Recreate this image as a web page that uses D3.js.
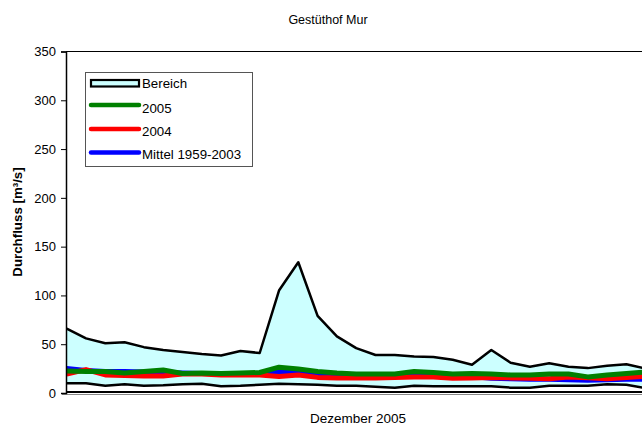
<!DOCTYPE html>
<html>
<head>
<meta charset="utf-8">
<script src="https://cdn.jsdelivr.net/npm/d3@7"></script>
<style>
  body { margin: 0; background: #fff; }
  svg { font-family: "Liberation Sans", Arial, sans-serif; }
</style>
</head>
<body>
<div id="chart"></div>
<script>
// Daily values, Dezember 2005 (day 1..31)
const days = d3.range(1, 32);
const bereichMax = [66, 56, 51, 52, 47, 44, 42, 40, 38.5, 43, 41, 105, 134, 79, 58, 46, 39, 39, 37.5, 37, 34, 29, 44, 31, 27, 30.5, 27, 25.5, 28, 29.5, 25];
const bereichMin = [10, 10, 7.5, 9, 7.5, 8, 9, 9.5, 7, 7.5, 8.5, 9.5, 9, 8.5, 7.5, 7.5, 6.5, 5.5, 7.5, 7, 7, 7, 7, 5.5, 5.5, 7.5, 7.5, 7.5, 9, 8.5, 5];
const jahr2005 = [22.5, 22, 22, 20.5, 22, 23.5, 20, 20.5, 20, 20.5, 21, 26.5, 24.5, 22, 20.5, 19.5, 19.5, 19.5, 22, 21, 19.5, 20, 19.5, 18.5, 18.5, 19.5, 19.5, 16.5, 18.5, 20, 21.5];
const jahr2004 = [19.5, 24, 18.5, 18, 17.5, 17.5, 19.5, 19.5, 18.5, 18.5, 18.5, 17, 18.5, 16, 15.5, 15.5, 15.5, 16, 16.5, 16.5, 15, 15.5, 16, 15.5, 15, 14.5, 16.5, 15.5, 14.5, 16, 17];
const mittel = [25, 23, 22, 22, 21.5, 21, 20.5, 20, 20, 19.5, 20, 22, 22, 19.5, 19, 18.5, 18, 18, 18, 17.5, 17, 17, 15, 14.5, 14, 14, 13.5, 13, 13.5, 14, 14];
const yTicks = [0, 50, 100, 150, 200, 250, 300, 350];

const W = 642, H = 428;
const svg = d3.select("#chart").append("svg")
    .attr("width", W).attr("height", H);

// Scales (last day sits just past the right edge of the picture)
const x = d3.scaleLinear().domain([1, 31]).range([66.7, 645.7]);
const y = d3.scaleLinear().domain([0, 350]).range([393, 51.5]);

// Bereich (min..max band)
const area = d3.area()
    .x((d, i) => x(days[i]))
    .y0((d, i) => y(bereichMin[i]))
    .y1(d => y(d));

svg.append("path")
   .datum(bereichMax)
   .attr("d", area)
   .attr("fill", "#ccffff");

const line = d3.line().x((d, i) => x(days[i])).y(d => y(d));

[bereichMax, bereichMin].forEach(s => {
    svg.append("path").datum(s)
       .attr("d", line)
       .attr("fill", "none")
       .attr("stroke", "#000")
       .attr("stroke-width", 2.5)
       .attr("stroke-linejoin", "round");
});

// Series lines: blue below, green on top
const series = [
    {data: mittel, color: "#0000ff"},
    {data: jahr2004, color: "#ff0000"},
    {data: jahr2005, color: "#008000"}
];
series.forEach(s => {
    svg.append("path").datum(s.data)
       .attr("d", line)
       .attr("fill", "none")
       .attr("stroke", s.color)
       .attr("stroke-width", 5)
       .attr("stroke-linejoin", "round");
});

// Baseline at 0 and plot frame
svg.append("line")
   .attr("x1", 66).attr("x2", W)
   .attr("y1", y(0) - 1).attr("y2", y(0) - 1)
   .attr("stroke", "#000").attr("stroke-width", 2);
svg.append("line")
   .attr("x1", 62).attr("x2", W)
   .attr("y1", y(0) + 1.5).attr("y2", y(0) + 1.5)
   .attr("stroke", "#888").attr("stroke-width", 1.2);
svg.append("line")
   .attr("x1", 66).attr("x2", W)
   .attr("y1", y(350)).attr("y2", y(350))
   .attr("stroke", "#000").attr("stroke-width", 1.2);

// Y axis
const yAxis = svg.append("g")
    .attr("transform", "translate(66,0)")
    .call(d3.axisLeft(y).tickValues(yTicks).tickSize(5).tickPadding(5));
yAxis.select(".domain").attr("stroke", "#000").attr("stroke-width", 1.5);
yAxis.selectAll(".tick line").attr("stroke", "#000");
yAxis.selectAll(".tick text")
     .attr("font-size", 13).attr("fill", "#000")
     .attr("font-family", "Liberation Sans, Arial, sans-serif");

// Titles
svg.append("text")
   .attr("x", 328).attr("y", 24)
   .attr("text-anchor", "middle")
   .attr("font-size", 12.5)
   .text("Gestüthof Mur");

svg.append("text")
   .attr("x", 358).attr("y", 423)
   .attr("text-anchor", "middle")
   .attr("font-size", 13.5)
   .text("Dezember 2005");

svg.append("text")
   .attr("transform", "translate(22,222) rotate(-90)")
   .attr("text-anchor", "middle")
   .attr("font-size", 13.3)
   .attr("font-weight", "bold")
   .text("Durchfluss [m³/s]");

// Legend
const legend = svg.append("g");
legend.append("rect")
   .attr("x", 85.5).attr("y", 72.5)
   .attr("width", 167).attr("height", 94)
   .attr("fill", "#fff")
   .attr("stroke", "#555").attr("stroke-width", 1);

legend.append("rect")
   .attr("x", 91).attr("y", 80)
   .attr("width", 48).attr("height", 6.5)
   .attr("fill", "#ccffff")
   .attr("stroke", "#000").attr("stroke-width", 2.2);
legend.append("text")
   .attr("x", 142).attr("y", 88)
   .attr("font-size", 13.3)
   .text("Bereich");

const legendItems = [
    {label: "2005", color: "#008000", ly: 105, ty: 113},
    {label: "2004", color: "#ff0000", ly: 129, ty: 136},
    {label: "Mittel 1959-2003", color: "#0000ff", ly: 152.5, ty: 159}
];
legendItems.forEach(d => {
    legend.append("line")
       .attr("x1", 91).attr("x2", 139)
       .attr("y1", d.ly).attr("y2", d.ly)
       .attr("stroke", d.color)
       .attr("stroke-width", 4.5)
       .attr("stroke-linecap", "round");
    legend.append("text")
       .attr("x", 142).attr("y", d.ty)
       .attr("font-size", 13.3)
       .text(d.label);
});
</script>
</body>
</html>
